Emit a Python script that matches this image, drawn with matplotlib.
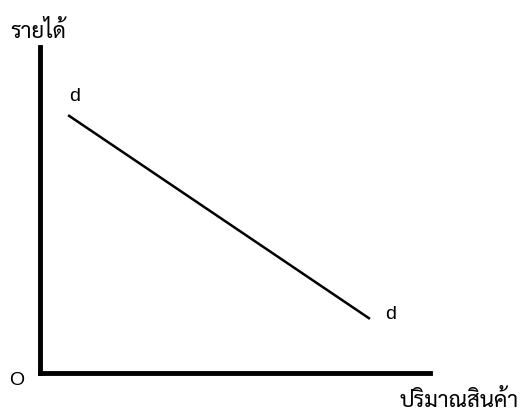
import matplotlib
matplotlib.use("Agg")
import matplotlib.pyplot as plt

# demand line end points (quantity, income)
qty = [0.72, 8.46]
income = [7.91, 1.66]

y_label = "รายได้"
x_label = "ปริมาณสินค้า"
curve_label = "d"
origin_label = "O"

thai = ["Sarabun", "DejaVu Sans"]
latin = ["Liberation Sans", "DejaVu Sans"]

fig = plt.figure(figsize=(5.2, 4.14), dpi=100)
ax = fig.add_axes([40 / 520, 1 - 374 / 414, 390 / 520, 326 / 414])
ax.set_xlim(0, 10)
ax.set_ylim(0, 10)

ax.plot(qty, income, color="black", linewidth=1.8, solid_capstyle="butt")

for side in ["top", "right"]:
    ax.spines[side].set_visible(False)
for side in ["left", "bottom"]:
    ax.spines[side].set_linewidth(3.5)
    ax.spines[side].set_capstyle("projecting")
ax.set_xticks([])
ax.set_yticks([])

ax.text(0.09, 0.85, curve_label, transform=ax.transAxes, ha="center", va="center",
        fontsize=14, family=latin)
ax.text(0.90, 0.184, curve_label, transform=ax.transAxes, ha="center", va="center",
        fontsize=14, family=latin)
ax.text(-0.059, -0.021, origin_label, transform=ax.transAxes, ha="center", va="center",
        fontsize=14, family=latin)

ax.text(-0.077, 1.05, y_label, transform=ax.transAxes, ha="left", va="center",
        fontsize=16, family=thai)
ax.text(1.226, -0.084, x_label, transform=ax.transAxes, ha="right", va="center",
        fontsize=16, family=thai)

fig.savefig("out.png", dpi=100)
